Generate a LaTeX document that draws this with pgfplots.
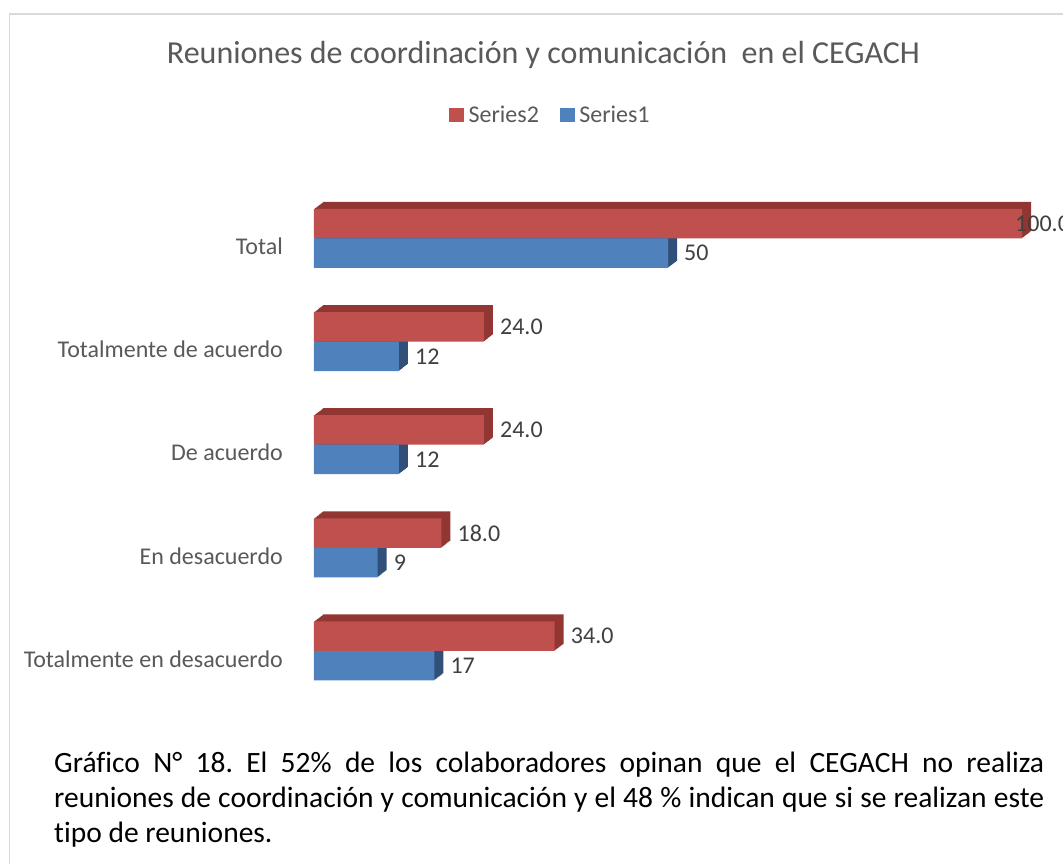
\documentclass[border=0pt]{standalone}
\usepackage{fontspec}
\setmainfont{Carlito}[Ligatures=NoCommon]
\usepackage{pgfplots}
\pgfplotsset{compat=1.18}
\usepackage{pgfplotstable}
\definecolor{redF}{HTML}{C0504D}
\definecolor{redT}{HTML}{923634}
\definecolor{blueF}{HTML}{4F81BD}
\definecolor{blueT}{HTML}{30507A}
\definecolor{txtgray}{HTML}{595959}
\definecolor{lblgray}{HTML}{404040}
\definecolor{bordergray}{HTML}{D9D9D9}
\frenchspacing

\pgfplotstableread{
y x lab sh
0 34 34.0 16
1 18 18.0 16
2 24 24.0 16
3 24 24.0 16
4 100 100.0 -7
}\seriestwo
\pgfplotstableread{
y x lab sh
0 17 17 16
1 9 9 16
2 12 12 16
3 12 12 16
4 50 50 16
}\seriesone

\begin{document}
\begin{tikzpicture}[x=1pt,y=1pt]
\useasboundingbox (0,0) rectangle (1063,864);
\clip (0,0) rectangle (1063,864);
\fill[white] (0,0) rectangle (1063,864);
\draw[bordergray, line width=1.5pt] (9.5,-10) -- (9.5,850) -- (1100,850);

\node[anchor=base, font=\fontsize{32}{38}\selectfont, text=txtgray, inner sep=0pt] at (543.5,800) {Reuniones de coordinación y comunicación \ en el CEGACH};

\begin{axis}[
  at={(314pt,161.44pt)}, anchor=south west, scale only axis,
  width=708pt, height=515.625pt,
  xmin=0, xmax=100, ymin=-0.5, ymax=4.5,
  clip=false,
  axis line style={draw=none},
  xtick=\empty,
  ytick={0,1,2,3,4},
  yticklabels={Totalmente en desacuerdo, En desacuerdo, De acuerdo, Totalmente de acuerdo, Total},
  major tick length=0pt,
  yticklabel style={font=\fontsize{24}{29}\selectfont, text=txtgray, inner sep=0pt, xshift=-31pt, yshift=-8pt},
  xbar, bar width=29.5pt,
  legend columns=2,
  legend style={at={(axis description cs:0.3325,1.1395)}, anchor=center, draw=none, fill=none,
    font=\fontsize{24}{29}\selectfont, text=txtgray, inner sep=0pt,
    nodes={inner sep=0pt},
    /tikz/every odd column/.style={column sep=5pt},
    /tikz/every even column/.style={column sep=21pt}},
]
\pgfplotsinvokeforeach{1,...,9}{
  \addplot[forget plot, fill=redT, draw=none, bar shift=14.75pt, xshift=#1pt, yshift=#1*0.7778pt]
    table[x=x, y=y]{\seriestwo};
}
\pgfplotsinvokeforeach{1,...,9}{
  \addplot[forget plot, fill=blueT, draw=none, bar shift=-14.75pt, xshift=#1pt, yshift=#1*0.7778pt]
    table[x=x, y=y]{\seriesone};
}
\addplot[forget plot, fill=redF, draw=none, bar shift=14.75pt,
  point meta=explicit symbolic,
  visualization depends on={\thisrow{sh} \as \sh},
  nodes near coords,
  every node near coord/.append style={anchor=west, xshift=\sh pt, inner sep=0pt,
    font=\fontsize{24}{29}\selectfont, text=lblgray}]
  table[x=x, y=y, meta=lab]{\seriestwo};
\addplot[forget plot, fill=blueF, draw=none, bar shift=-14.75pt,
  point meta=explicit symbolic,
  visualization depends on={\thisrow{sh} \as \sh},
  nodes near coords,
  every node near coord/.append style={anchor=west, xshift=\sh pt, inner sep=0pt,
    font=\fontsize{24}{29}\selectfont, text=lblgray}]
  table[x=x, y=y, meta=lab]{\seriesone};
\addlegendimage{legend image code/.code={\fill[redF] (0pt,-6.5pt) rectangle (14pt,6.5pt);}}
\addlegendentry{Series2}
\addlegendimage{legend image code/.code={\fill[blueF] (0pt,-6.5pt) rectangle (14pt,6.5pt);}}
\addlegendentry{Series1}
\end{axis}

\node[anchor=base west, inner sep=0pt] at (54,91) {\parbox[t]{990pt}{\fontsize{29.5}{35}\selectfont Gráfico N° 18. El 52\% de los colaboradores opinan que el CEGACH no realiza\linebreak reuniones de coordinación y comunicación y el 48 \% indican que si se realizan este\linebreak tipo de reuniones.}};
\end{tikzpicture}
\end{document}
